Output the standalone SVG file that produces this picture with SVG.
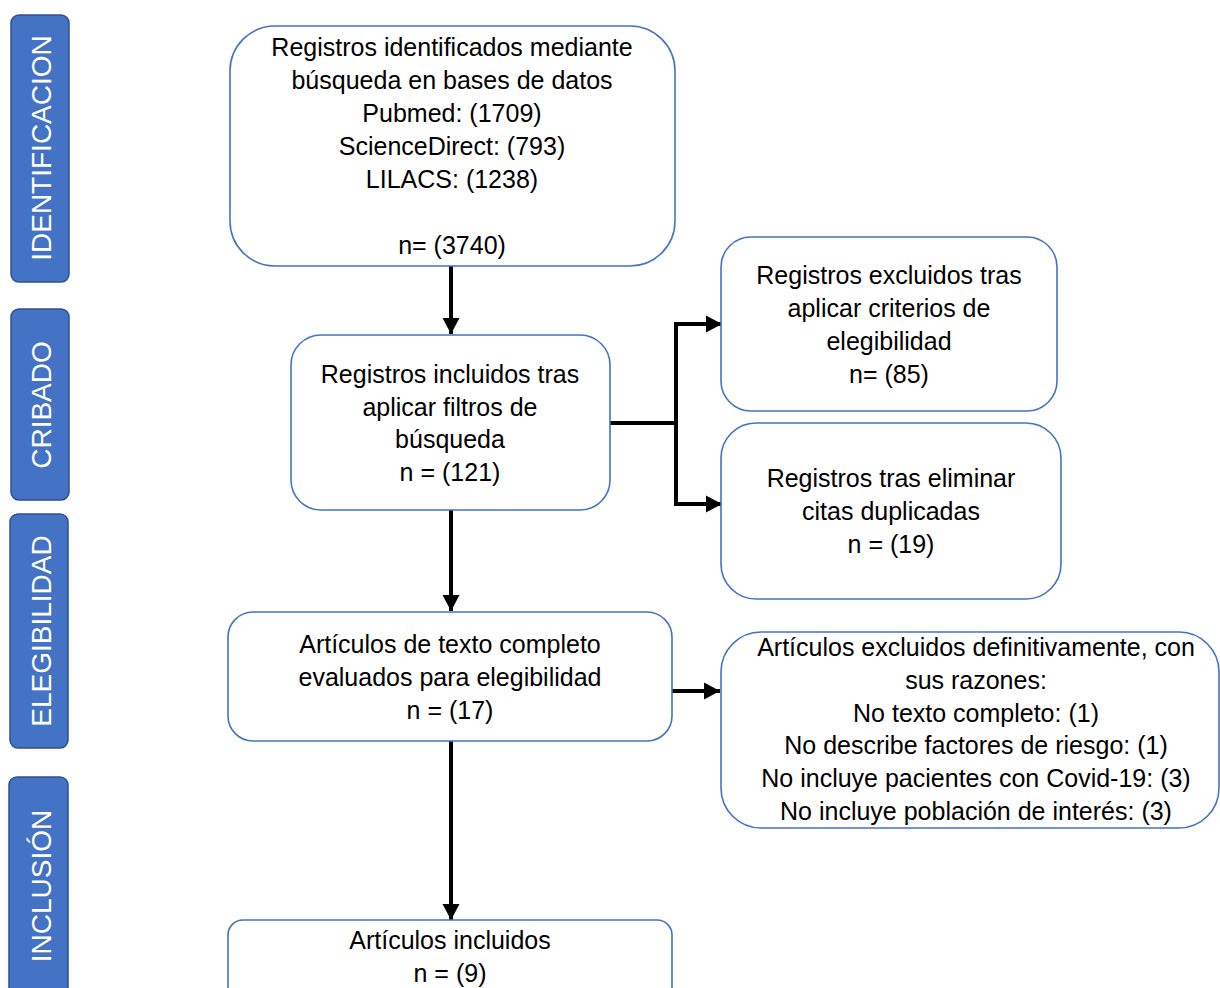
<svg xmlns="http://www.w3.org/2000/svg" width="1220" height="988" viewBox="0 0 1220 988">
<defs>
<style>
.side{fill:#4472C4;stroke:#2F528F;stroke-width:1.5}
.stxt{font-family:"Liberation Sans",Arial,sans-serif;font-size:28px;fill:#fff;text-anchor:middle}
.box{fill:#fff;stroke:#4472C4;stroke-width:1.6}
.t{font-family:"Liberation Sans",Arial,sans-serif;font-size:25px;fill:#000;text-anchor:middle}
.ln{stroke:#000;stroke-width:4;fill:none}
</style>
<marker id="ah" markerUnits="userSpaceOnUse" markerWidth="18" markerHeight="20" viewBox="0 0 18 20" refX="16" refY="10" orient="auto">
<path d="M0,1.5 L16,10 L0,18.5 Z" fill="#000"/>
</marker>
</defs>
<rect width="1220" height="988" fill="#fff"/>
<g id="stage-identificacion">
<rect class="side" x="11" y="15" width="58" height="267" rx="8"/>
<text class="stxt" transform="translate(51,148) rotate(-90)">IDENTIFICACION</text>
</g>
<g id="stage-cribado">
<rect class="side" x="11" y="309" width="58" height="191" rx="8"/>
<text class="stxt" transform="translate(51,405) rotate(-90)">CRIBADO</text>
</g>
<g id="stage-elegibilidad">
<rect class="side" x="10" y="514" width="58" height="234" rx="8"/>
<text class="stxt" transform="translate(51,631) rotate(-90)">ELEGIBILIDAD</text>
</g>
<g id="stage-inclusion">
<rect class="side" x="9" y="777" width="59" height="230" rx="8"/>
<text class="stxt" transform="translate(51,886) rotate(-90)">INCLUSIÓN</text>
</g>
<g id="connectors">
<line class="ln" x1="451" y1="266" x2="451" y2="334" marker-end="url(#ah)"/>
<polyline class="ln" points="610,423 676,423"/>
<polyline class="ln" points="722,324 676,324 676,504 722,504" marker-end="url(#ah)"/>
<line class="ln" x1="676" y1="324" x2="722" y2="324" marker-end="url(#ah)"/>
<line class="ln" x1="451" y1="510" x2="451" y2="611" marker-end="url(#ah)"/>
<line class="ln" x1="672" y1="691" x2="720" y2="691" marker-end="url(#ah)"/>
<line class="ln" x1="451" y1="741" x2="451" y2="920" marker-end="url(#ah)"/>
</g>
<g id="n-identificados">
<rect class="box" x="230" y="26" width="445" height="240" rx="45"/>
<text class="t" x="452" y="56">Registros identificados mediante</text>
<text class="t" x="452" y="89">búsqueda en bases de datos</text>
<text class="t" x="452" y="122">Pubmed: (1709)</text>
<text class="t" x="452" y="155">ScienceDirect: (793)</text>
<text class="t" x="452" y="188">LILACS: (1238)</text>
<text class="t" x="452" y="254">n= (3740)</text>
</g>
<g id="n-incluidos-filtros">
<rect class="box" x="291" y="335" width="319" height="175" rx="30"/>
<text class="t" x="450" y="383">Registros incluidos tras</text>
<text class="t" x="450" y="416">aplicar filtros de</text>
<text class="t" x="450" y="448">búsqueda</text>
<text class="t" x="450" y="481">n = (121)</text>
</g>
<g id="n-excluidos-criterios">
<rect class="box" x="721" y="237" width="336" height="174" rx="30"/>
<text class="t" x="889" y="284">Registros excluidos tras</text>
<text class="t" x="889" y="317">aplicar criterios de</text>
<text class="t" x="889" y="350">elegibilidad</text>
<text class="t" x="889" y="383">n= (85)</text>
</g>
<g id="n-duplicados">
<rect class="box" x="721" y="423" width="340" height="176" rx="35"/>
<text class="t" x="891" y="487">Registros tras eliminar</text>
<text class="t" x="891" y="520">citas duplicadas</text>
<text class="t" x="891" y="553">n = (19)</text>
</g>
<g id="n-texto-completo">
<rect class="box" x="228" y="612" width="444" height="129" rx="25"/>
<text class="t" x="450" y="653">Artículos de texto completo</text>
<text class="t" x="450" y="686">evaluados para elegibilidad</text>
<text class="t" x="450" y="719">n = (17)</text>
</g>
<g id="n-excluidos-definitivo">
<rect class="box" x="721" y="632" width="498" height="196" rx="40"/>
<text class="t" x="976" y="656">Artículos excluidos definitivamente, con</text>
<text class="t" x="976" y="689">sus razones:</text>
<text class="t" x="976" y="722">No texto completo: (1)</text>
<text class="t" x="976" y="754">No describe factores de riesgo: (1)</text>
<text class="t" x="976" y="787">No incluye pacientes con Covid-19: (3)</text>
<text class="t" x="976" y="820">No incluye población de interés: (3)</text>
</g>
<g id="n-incluidos">
<rect class="box" x="228" y="920" width="444" height="90" rx="15"/>
<text class="t" x="450" y="949">Artículos incluidos</text>
<text class="t" x="450" y="982">n = (9)</text>
</g>
</svg>
